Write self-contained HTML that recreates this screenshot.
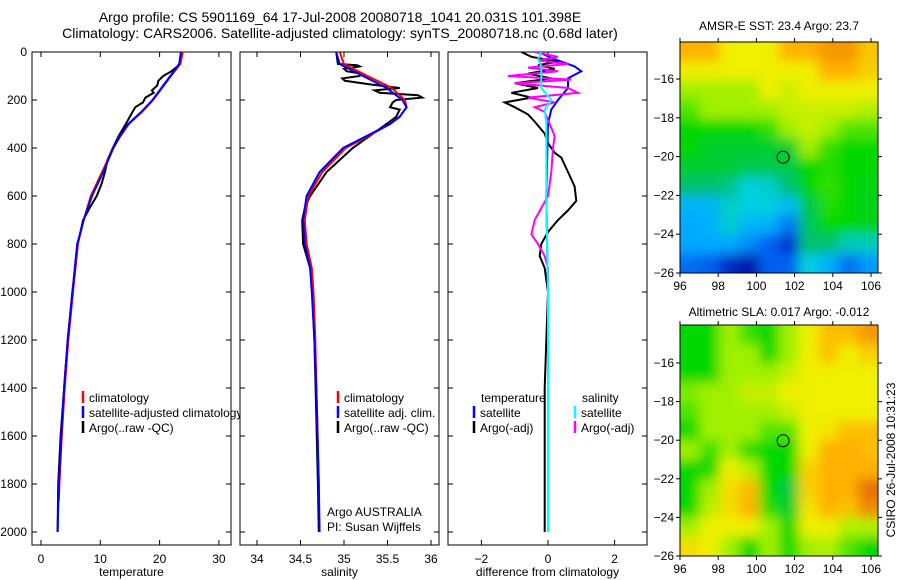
<!DOCTYPE html>
<html><head><meta charset="utf-8"><style>
body{margin:0;background:#fff;}
svg{display:block;font-family:"Liberation Sans",sans-serif;}
text{fill:#000;}
</style></head><body>
<svg id="fig" width="900" height="580" viewBox="0 0 900 580">
<text x="340" y="22" font-size="14" text-anchor="middle">Argo profile: CS 5901169_64 17-Jul-2008 20080718_1041 20.031S 101.398E</text>
<text x="340" y="38" font-size="14" text-anchor="middle">Climatology: CARS2006. Satellite-adjusted climatology: synTS_20080718.nc (0.68d later)</text>
<g id="g"></g>
</svg>
<script>
// ---------- data ----------
const tDepth=[0,50,100,150,200,250,300,350,400,500,600,700,800,900,1000,1200,1400,1600,1800,1870];
const tClim=[23.9,23.5,21.9,20.4,18.9,17.0,14.8,13.4,12.2,10.3,8.4,7.2,6.2,5.8,5.4,4.6,4.0,3.5,3.1,3.0];
const tSatDepth=[0,50,100,150,200,250,300,350,400,500,600,700,800,900,1000,1200,1400,1600,1800,2000];
const tSat=[23.6,23.3,21.8,20.3,18.8,16.9,14.7,13.3,12.2,10.5,8.6,7.2,6.1,5.7,5.3,4.5,3.9,3.4,3.0,2.8];
const tArgoDepth=[0,40,60,80,100,120,140,160,170,190,210,230,260,300,350,400,450,500,550,600,650,700,800,900,1000,1200,1400,1600,1800,2000];
const tArgo=[23.8,23.6,23.0,22.0,20.6,19.8,19.6,18.7,19.0,17.6,17.2,15.9,15.2,14.3,13.1,12.1,11.2,10.8,10.2,9.4,8.2,7.1,6.2,5.8,5.3,4.5,3.9,3.3,2.9,2.8];
const sDepth=[0,50,100,150,200,230,270,300,350,400,500,600,700,800,900,1000,1200,1500,1800,1870];
const sClim=[34.95,35.0,35.27,35.55,35.7,35.72,35.64,35.53,35.28,35.02,34.75,34.59,34.55,34.57,34.63,34.65,34.67,34.69,34.71,34.71];
const sSatDepth=[0,50,100,150,200,230,270,300,350,400,500,600,700,800,900,1000,1200,1500,1800,2000];
const sSat=[34.91,34.95,35.22,35.49,35.67,35.72,35.64,35.53,35.26,34.99,34.72,34.57,34.53,34.55,34.61,34.63,34.66,34.69,34.71,34.72];
const sArgoDepth=[0,50,55,60,70,80,90,100,110,120,135,150,160,170,180,190,200,210,230,240,270,300,400,500,600,650,700,800,900,950,1200,1500,1800,2000];
const sArgo=[34.91,34.93,35.15,35.18,35.0,35.03,35.2,35.18,34.98,35.01,35.3,35.64,35.35,35.41,35.85,35.9,35.6,35.56,35.53,35.64,35.6,35.49,35.1,34.8,34.61,34.55,34.52,34.53,34.61,34.63,34.66,34.68,34.7,34.71];
const dDepth=[0,20,40,55,70,90,110,130,150,170,190,210,230,260,290,340,380,420,440,500,560,620,660,700,750,800,850,900,950,1000,1400,1600,2000];
const dTempArgo=[-0.8,-0.5,0.3,-0.3,0.2,-0.6,0.1,-1.0,-0.3,-1.1,-0.5,-1.3,-1.0,-0.6,-0.4,-0.1,0.0,0.2,0.4,0.6,0.8,0.85,0.6,0.3,0.0,-0.2,-0.25,-0.1,-0.05,0,-0.1,-0.1,-0.1];
const dsDepth=[0,30,60,80,110,150,200,240,300,600,1000,2000];
const dTempSat=[-0.3,0.2,0.8,1.0,0.6,0.6,0.3,0.1,0.0,-0.05,0,0];
const dSalSat=[-0.2,-0.3,-0.2,-0.2,-0.2,-0.2,0.1,-0.1,-0.05,-0.05,0,0];
const dmDepth=[0,20,35,50,65,80,100,115,130,150,170,190,210,230,250,300,350,400,500,600,700,760,800,850,900,1400,2000];
const dSalArgo=[-0.4,0.3,-0.3,0.6,-0.6,0.3,-1.2,0.7,-1.0,0.6,0.9,-0.6,0.2,-0.4,-0.1,0.05,0.2,0.15,0.1,0.0,-0.4,-0.5,-0.3,-0.1,0,0,0];
const tTicks=[0,10,20,30], sTicks=[34,34.5,35,35.5,36], dTicks=[-2,0,2];
const depthTicks=[0,200,400,600,800,1000,1200,1400,1600,1800,2000];
const lonTicks=[96,98,100,102,104,106], latTicks=[-16,-18,-20,-22,-24,-26];
const sstGrid=[
[9,9,8,8,8,9,9,9.3,9.3,8.7],[8,8,8,8,8,8,8,9,9,8.5],[7,7,7,7,8,7.5,8,8,8,8],[6.5,7,7,7,7,7.5,7.5,7.5,7.5,7.2],
[6,6,6,6,6.3,7,7.5,7,6.5,6.5],[6,5.6,5.6,5.6,5.6,5.6,7,6.3,6,6],[5.6,5.6,5.5,5.3,5.3,5.4,6,6.2,6,6],[5,5,4.8,4,4.2,5,6,6.3,6,5.8],
[3.3,3.3,4.2,4,4,3.5,5.3,6.2,6,5.8],[3,3.2,4.2,3.3,3.2,2.3,5.2,6,6,5.8],[3,3,3,2.6,2,1.5,5,5,4.3,4.3],[2.2,2,1.3,0.6,2,2,4,3.2,2.2,2.8]];
const slaGrid=[
[6,6,7,6.3,6,7,8,8.8,8.8,9.3],[6,6,7,7,6,7,8,8.7,8,8.5],[6,6,7,7,7,7.5,8,8,8,8],[6.8,7,7,7.5,7.5,8,8,8,8,8],
[6.5,7,7,7,7,7.5,8,8,8,8],[6,7,7,7,6.5,6.5,8,8.2,8.8,8.8],[7,6.3,7,6.2,6,6,8,9,9,8.8],[6,6,8,7.3,6,6,8.5,9,9,9],
[6,7,8.3,8.8,6,5.4,8.5,9,9,9.8],[6,7.3,8.3,9,6.2,5.6,8.2,9,8.7,9.5],[7,8,8,8,7,6,8,8,7.2,7.2],[8.3,8,7,6,7,6,7,7.2,6.5,6]];
// ---------- drawing ----------
const NS='http://www.w3.org/2000/svg', G=document.getElementById('g');
function mk(tag,attrs,parent){const e=document.createElementNS(NS,tag);for(const k in attrs)e.setAttribute(k,attrs[k]);(parent||G).appendChild(e);return e;}
function txt(x,y,s,size,anchor,parent){const e=mk('text',{x:x,y:y,'font-size':size,'text-anchor':anchor||'start'},parent);e.textContent=s;return e;}
const Y0=52,Y1=545;
const yD=d=>52+0.24*d;
function panel(name,x0,x1,xScale,xt,label,ylabels){
  const r=mk('rect',{x:x0,y:Y0,width:x1-x0,height:Y1-Y0,fill:'none',stroke:'#000','stroke-width':1});
  
  
  xt.forEach(v=>{const x=xScale(v);
    mk('line',{x1:x,x2:x,y1:Y1,y2:Y1-5,stroke:'#000'});mk('line',{x1:x,x2:x,y1:Y0,y2:Y0+5,stroke:'#000'});
    const t=txt(x,563,String(v).replace('-','\u2212'),12,'middle');
    
    });
  depthTicks.forEach(d=>{const y=yD(d);
    mk('line',{x1:x0,x2:x0+5,y1:y,y2:y,stroke:'#000'});mk('line',{x1:x1,x2:x1-5,y1:y,y2:y,stroke:'#000'});
    if(ylabels){const t=txt(27,y+4,String(d),12,'end');
      
      }});
  const l=txt((x0+x1)/2,576,label,12,'middle');
  
  
}
function series(name,xs,ds,xScale,color,w,clip){
  const pts=xs.map((v,i)=>xScale(v).toFixed(1)+','+yD(ds[i]).toFixed(1)).join(' ');
  const p=mk('polyline',{points:pts,fill:'none',stroke:color,'stroke-width':w,'stroke-linejoin':'miter','clip-path':'url(#'+clip+')'});
  
  
}
const defs=mk('defs',{});
[['c1',32,231],['c2',240,439],['c3',448,647]].forEach(c=>{const cp=mk('clipPath',{id:c[0]},defs);mk('rect',{x:c[1],y:Y0,width:c[2]-c[1],height:Y1-Y0},cp);});
const blur=mk('filter',{id:'blur',x:'-10%',y:'-10%',width:'120%',height:'120%'},defs);
mk('feGaussianBlur',{stdDeviation:6},blur);
const xT=v=>41+5.93*v, xS=v=>257+87*(v-34), xDf=v=>548+33.3*v;
panel('temperature-panel',32,231,xT,tTicks,'temperature',true);
panel('salinity-panel',240,439,xS,sTicks,'salinity',false);
panel('difference-panel',448,647,xDf,dTicks,'difference from climatology',false);
series('temp-argo-line',tArgo,tArgoDepth,xT,'#000',2,'c1');
series('temp-climatology-line',tClim,tDepth,xT,'#f00',2,'c1');
series('temp-satellite-line',tSat,tSatDepth,xT,'#00f',2,'c1');
series('sal-argo-line',sArgo,sArgoDepth,xS,'#000',2,'c2');
series('sal-climatology-line',sClim,sDepth,xS,'#f00',2,'c2');
series('sal-satellite-line',sSat,sSatDepth,xS,'#00f',2,'c2');
series('diff-temp-argo-line',dTempArgo,dDepth,xDf,'#000',2,'c3');
series('diff-temp-sat-line',dTempSat,dsDepth,xDf,'#00f',2,'c3');
series('diff-sal-argo-line',dSalArgo,dmDepth,xDf,'#f0f',2,'c3');
series('diff-sal-sat-line',dSalSat,dsDepth,xDf,'#0ff',2,'c3');
// legends
function leg(x,y,color,label,name,clip){
  mk('line',{x1:x,x2:x,y1:y-11,y2:y+1,stroke:color,'stroke-width':2.5});
  const t=txt(x+6,y,label,12,'start');
  if(clip)t.setAttribute('clip-path','url(#'+clip+')');
  
  
}
const lc=mk('clipPath',{id:'lc'},defs);mk('rect',{x:32,y:0,width:208,height:580},lc);
leg(83,402,'#f00','climatology','temp-legend-climatology');
leg(83,417,'#00f','satellite-adjusted climatology','temp-legend-satellite','lc');
leg(83,432,'#000','Argo(..raw -QC)','temp-legend-argo');
leg(338,402,'#f00','climatology','sal-legend-climatology');
leg(338,417,'#00f','satellite adj. clim.','sal-legend-satellite');
leg(338,432,'#000','Argo(..raw -QC)','sal-legend-argo');
let t1=txt(481,402,'temperature',12);
let t2=txt(582,402,'salinity',12);
leg(474,417,'#00f','satellite','diff-legend-temp-satellite');
leg(474,432,'#000','Argo(-adj)','diff-legend-temp-argo');
leg(575,417,'#0ff','satellite','diff-legend-sal-satellite');
leg(575,432,'#f0f','Argo(-adj)','diff-legend-sal-argo');
let a1=txt(327,516,'Argo AUSTRALIA',12);
let a2=txt(327,531,'PI: Susan Wijffels',12);
// maps
const stops=[[0,[0,0,139]],[1.5,[0,48,208]],[2,[0,96,240]],[3,[0,168,255]],[4,[0,208,224]],[5,[0,192,112]],[6,[0,216,0]],[7,[160,240,0]],[8,[240,240,0]],[9,[255,176,0]],[10,[224,96,0]]];
function cmap(v){for(let i=1;i<stops.length;i++){if(v<=stops[i][0]){const a=stops[i-1],b=stops[i],f=(v-a[0])/(b[0]-a[0]);
  return 'rgb('+a[1].map((c,k)=>Math.round(c+f*(b[1][k]-c))).join(',')+')';}}return 'rgb(224,96,0)';}
function map(name,grid,x0,x1,yTop,yBot,latTopPx,title,titleY){
  const lonX=l=>680+19.1*(l-96);
  const latY=l=>latTopPx+(yBot-latTopPx)/10*(-16-l);
  const rows=grid.length, cols=grid[0].length, cw=(x1-x0)/cols, rh=(yBot-yTop)/rows;
  const cp=mk('clipPath',{id:name+'-clip'},defs);mk('rect',{x:x0,y:yTop,width:x1-x0,height:yBot-yTop},cp);
  const outer=mk('g',{'clip-path':'url(#'+name+'-clip)'});
  
  
  const inner=mk('g',{filter:'url(#blur)'},outer);
  for(let r=-2;r<rows+2;r++)for(let c=-2;c<cols+2;c++){
    const v=grid[Math.min(rows-1,Math.max(0,r))][Math.min(cols-1,Math.max(0,c))];
    const cell=mk('rect',{x:x0+c*cw,y:yTop+r*rh,width:cw+0.6,height:rh+0.6,fill:cmap(v)},inner);
    
    }
  mk('rect',{x:x0,y:yTop,width:x1-x0,height:yBot-yTop,fill:'none',stroke:'#000'});
  lonTicks.forEach(l=>{const x=lonX(l);mk('line',{x1:x,x2:x,y1:yBot,y2:yBot+4,stroke:'#000'});mk('line',{x1:x,x2:x,y1:yTop,y2:yTop-4,stroke:'#000'});
    const t=txt(x,yBot+17,String(l),12,'middle');});
  latTicks.forEach(l=>{const y=latY(l);mk('line',{x1:x0,x2:x0-4,y1:y,y2:y,stroke:'#000'});mk('line',{x1:x1,x2:x1+4,y1:y,y2:y,stroke:'#000'});
    const t=txt(x0-6,y+4,String(l).replace('-','\u2212'),12,'end');});
  const c=mk('circle',{cx:lonX(101.398),cy:latY(-20.031),r:6,fill:'none',stroke:'#000','stroke-width':1});
  
  
  const tt=txt(779,titleY,title,12,'middle');
  
  
}
map('sst-map',sstGrid,680,878,42,273,79,'AMSR-E SST: 23.4 Argo: 23.7',30);
map('sla-map',slaGrid,680,878,325,556,363,'Altimetric SLA: 0.017 Argo: -0.012',316);
const cs=txt(0,0,'CSIRO 26-Jul-2008 10:31:23',12,'middle');
cs.setAttribute('transform','translate(895,460) rotate(-90)');


</script>
</body></html>
